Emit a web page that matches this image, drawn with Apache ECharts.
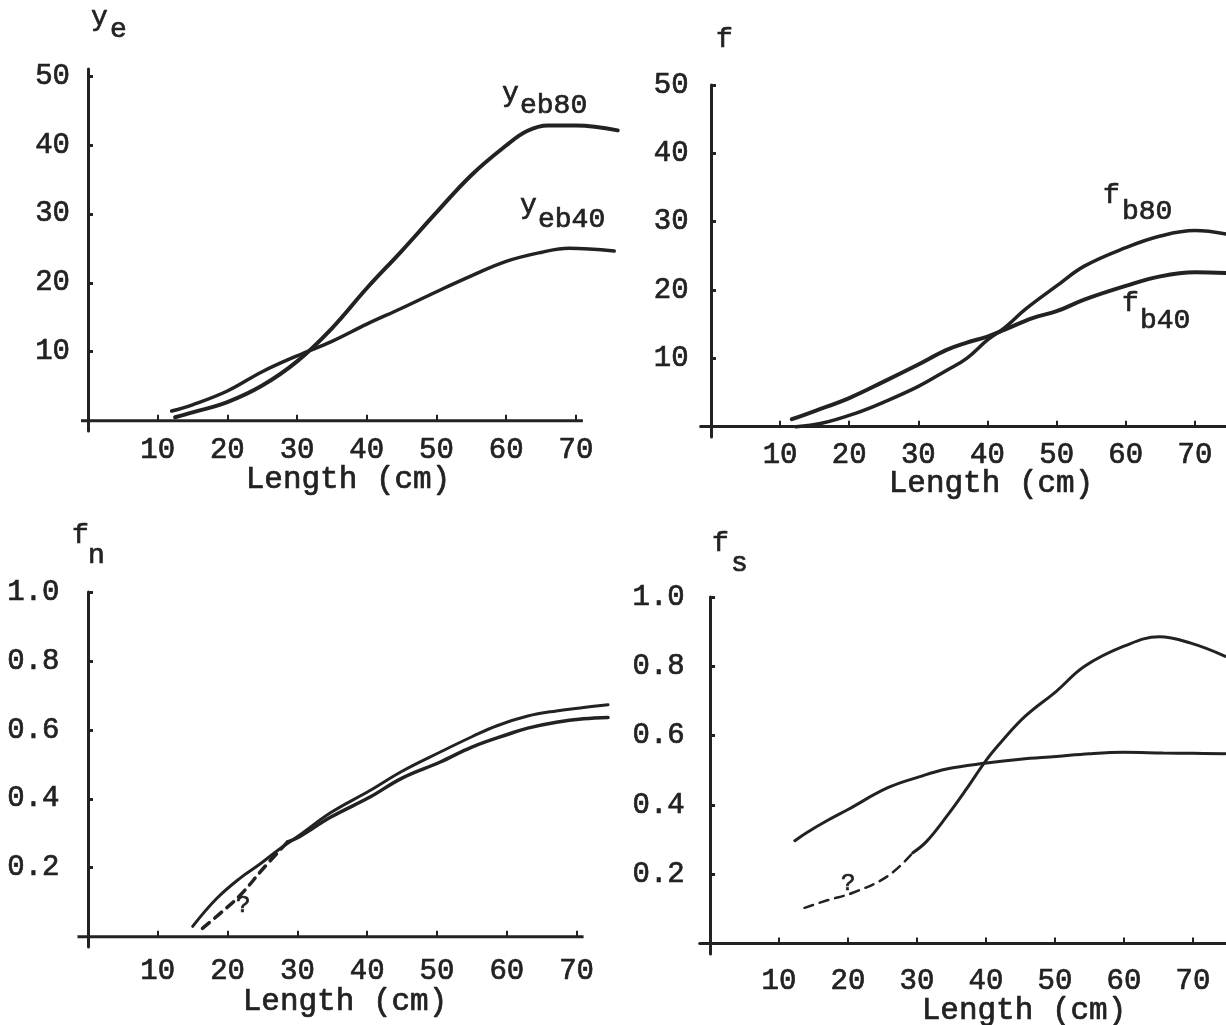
<!DOCTYPE html>
<html>
<head>
<meta charset="utf-8">
<script src="https://cdn.jsdelivr.net/npm/echarts@6/dist/echarts.min.js"></script>
<style>
html,body{margin:0;padding:0;background:#fff;}
#main{width:1226px;height:1025px;}
</style>
</head>
<body>
<div id="main"></div>
<script>
// ---------- DATA ----------
// Panel 1: y_e vs Length
const p1_x80 = [12.5, 15, 20, 25, 30, 35, 40, 45, 50, 55, 60, 63, 66, 70, 76];
const p1_yeb80 = [0.5, 1.2, 2.7, 5.1, 8.6, 13.4, 19.2, 24.6, 30.2, 35.6, 39.9, 42.0, 42.8, 42.8, 42.1];
const p1_x40 = [12, 15, 20, 25, 30, 35, 40, 45, 50, 55, 60, 65, 69, 75.5];
const p1_yeb40 = [1.4, 2.3, 4.3, 7.1, 9.4, 11.5, 14, 16.3, 18.7, 21, 23.1, 24.4, 25, 24.6];

// Panel 2: f vs Length
const p2_x40 = [11.7, 15, 20, 25, 30, 34, 37, 40, 42.5, 46.5, 50, 54, 60, 65, 70, 74.5];
const p2_fb40 = [1.1, 2.3, 4.2, 6.6, 9.1, 11.2, 12.3, 13.2, 14.2, 15.9, 16.9, 18.6, 20.6, 22, 22.6, 22.5];
const p2_x80 = [12.3, 16, 21, 25, 30, 34, 37, 40, 42.5, 45.5, 50, 54, 60, 65, 70, 74.5];
const p2_fb80 = [0, 0.5, 2, 3.6, 5.9, 8.2, 10, 12.7, 14.5, 17.2, 20.6, 23.5, 26.2, 27.9, 28.7, 28.2];

// Panel 3: f_n vs Length
const p3_xA = [15, 18.4, 21.8, 24.6, 27.5, 30.3, 34.8, 40.4, 45, 50.4, 55, 58.6, 63, 67.1, 71, 74.5];
const p3_fnA = [0.03, 0.11, 0.17, 0.21, 0.255, 0.294, 0.36, 0.424, 0.48, 0.535, 0.58, 0.612, 0.64, 0.655, 0.665, 0.673];
const p3_xBdash = [16.4, 18.5, 21.8, 25.2, 28.6];
const p3_fnBdash = [0.024, 0.06, 0.12, 0.2, 0.275];
const p3_xB = [28.6, 30.3, 34.8, 40.4, 45, 50.4, 55, 60.3, 63, 67.1, 71, 74.5];
const p3_fnB = [0.275, 0.29, 0.347, 0.405, 0.46, 0.506, 0.55, 0.588, 0.605, 0.622, 0.632, 0.636];

// Panel 4: f_s vs Length
const p4_xA = [12.3, 14, 17, 20, 25.7, 30.3, 34.3, 40.1, 45, 50.2, 55, 60, 65.7, 70, 74.7];
const p4_fsA = [0.297, 0.32, 0.355, 0.387, 0.449, 0.481, 0.504, 0.521, 0.532, 0.54, 0.548, 0.552, 0.55, 0.549, 0.548];
const p4_xBdash = [13.7, 17, 20.6, 25.7, 29.4];
const p4_fsBdash = [0.103, 0.125, 0.146, 0.194, 0.262];
const p4_xB = [29.4, 31.4, 34.3, 37.1, 40.1, 42.3, 45.7, 50.2, 54.3, 60, 65.1, 69.7, 74.7];
const p4_fsB = [0.262, 0.295, 0.367, 0.444, 0.531, 0.584, 0.656, 0.728, 0.8, 0.858, 0.885, 0.867, 0.829];

// Tick labels
const xTicks = [10, 20, 30, 40, 50, 60, 70];
const yTicksF = [10, 20, 30, 40, 50];
const yTicksFrac = [0.2, 0.4, 0.6, 0.8, 1.0];
const xTitle = 'Length (cm)';

// ---------- CHART ----------
const INK = '#222222';
const FONT = "'Liberation Mono', 'Courier New', monospace";
const LBL = 29;
const chart = echarts.init(document.getElementById('main'), null, {renderer: 'canvas'});

function pts(xs, ys) { return xs.map((x, i) => [x, ys[i]]); }

// x-axis line drawn only over a sub-range in panels 1 & 3 (hand-drawn axis ends near 71)
const AXIS_SPAN_P1 = [-1, 71];
const AXIS_SPAN_P3 = [-1.5, 71];

function xAx(gi, min, max, margin, showLine) {
  return {
    type: 'value', gridIndex: gi, min: min, max: max,
    axisLine: {show: showLine, onZero: true, lineStyle: {color: INK, width: 3}},
    axisTick: {show: true, inside: true, length: 6, lineStyle: {color: INK, width: 2}, customValues: xTicks},
    axisLabel: {show: true, margin: margin, color: INK, fontFamily: FONT, fontSize: LBL, customValues: xTicks,
      textBorderColor: INK, textBorderWidth: 0.7},
    splitLine: {show: false}
  };
}
function yAx(gi, min, max, ticks, margin, fmt) {
  return {
    type: 'value', gridIndex: gi, min: min, max: max,
    axisLine: {show: true, onZero: true, lineStyle: {color: INK, width: 3}},
    axisTick: {show: true, inside: true, length: 5, lineStyle: {color: INK, width: 3}, customValues: ticks},
    axisLabel: {show: true, margin: margin, color: INK, fontFamily: FONT, fontSize: LBL, customValues: ticks,
      formatter: fmt, textBorderColor: INK, textBorderWidth: 0.7},
    splitLine: {show: false}
  };
}
function line(gi, data, width, dashed) {
  return {
    type: 'line', xAxisIndex: gi, yAxisIndex: gi, data: data,
    smooth: 0.4, showSymbol: false, symbol: 'none', clip: false, silent: true,
    lineStyle: {color: INK, width: width, type: dashed ? [9, 7] : 'solid', cap: 'round'}
  };
}
function axisLineSeries(gi, span) {
  return {
    type: 'line', xAxisIndex: gi, yAxisIndex: gi, data: [[span[0], 0], [span[1], 0]],
    showSymbol: false, symbol: 'none', clip: false, silent: true,
    lineStyle: {color: INK, width: 3}
  };
}
function txt(x, y, s, size, align) {
  return {type: 'text', x: x, y: y, silent: true,
    style: {text: s, fill: INK, stroke: INK, lineWidth: 0.7,
      font: (size || 28) + 'px ' + FONT, align: align || 'left', verticalAlign: 'top'}};
}

const fracFmt = v => v.toFixed(1);
const intFmt = v => String(Math.round(v));

const option = {
  backgroundColor: '#ffffff',
  animation: false,
  grid: [
    {left: 81, top: 69, width: 536.7, height: 362},
    {left: 700.6, top: 85, width: 526, height: 352},
    {left: 77.5, top: 592, width: 534, height: 355},
    {left: 699.7, top: 597, width: 526.5, height: 357}
  ],
  xAxis: [
    xAx(0, -1, 76, 5, false),
    xAx(1, -1.5, 74.5, 4, true),
    xAx(2, -1.5, 75, 10, false),
    xAx(3, -1.5, 74.8, 13, true)
  ],
  yAxis: [
    yAx(0, -1.5, 51, yTicksF, 11, intFmt),
    yAx(1, -1.5, 50, yTicksF, 12, intFmt),
    yAx(2, -0.03, 1.0, yTicksFrac, 18, fracFmt),
    yAx(3, -0.03, 1.0, yTicksFrac, 15, fracFmt)
  ],
  series: [
    axisLineSeries(0, AXIS_SPAN_P1),
    axisLineSeries(2, AXIS_SPAN_P3),
    line(0, pts(p1_x80, p1_yeb80), 4),
    line(0, pts(p1_x40, p1_yeb40), 3.5),
    line(1, pts(p2_x40, p2_fb40), 4),
    line(1, pts(p2_x80, p2_fb80), 3.5),
    line(2, pts(p3_xA, p3_fnA), 3),
    line(2, pts(p3_xBdash, p3_fnBdash), 3.5, true),
    line(2, pts(p3_xB, p3_fnB), 3.5),
    line(3, pts(p4_xA, p4_fsA), 3),
    line(3, pts(p4_xBdash, p4_fsBdash), 2.5, true),
    line(3, pts(p4_xB, p4_fsB), 3)
  ],
  graphic: [
    // axis titles
    txt(91, 4, 'y'), txt(110, 16, 'e'),
    txt(716, 26, 'f'),
    txt(72, 522, 'f'), txt(88, 542, 'n'),
    txt(712, 530, 'f'), txt(731, 550, 's'),
    // x titles
    txt(348, 464, xTitle, 31, 'center'),
    txt(991, 468, xTitle, 31, 'center'),
    txt(345, 986, xTitle, 31, 'center'),
    txt(1024, 995, xTitle, 31, 'center'),
    // curve labels
    txt(502, 80, 'y'), txt(520, 92, 'eb80'),
    txt(520, 192, 'y'), txt(538, 206, 'eb40'),
    txt(1103, 182, 'f'), txt(1122, 198, 'b80'),
    txt(1122, 290, 'f'), txt(1140, 307, 'b40'),
    txt(236, 894, '?', 24), txt(841, 872, '?', 24)
  ]
};
chart.setOption(option);
</script>
</body>
</html>
